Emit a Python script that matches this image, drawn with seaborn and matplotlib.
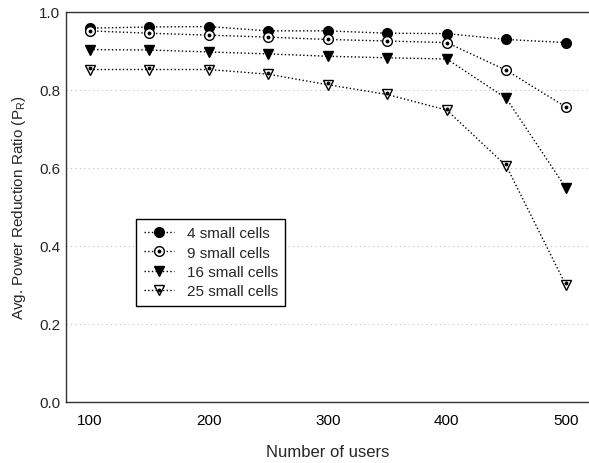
import matplotlib
matplotlib.use('Agg')
import matplotlib.pyplot as plt
import seaborn as sns
import pandas as pd
from matplotlib.legend_handler import HandlerTuple

### donnees ###
users = [100, 150, 200, 250, 300, 350, 400, 450, 500]
cells_4 = [0.958, 0.961, 0.962, 0.951, 0.951, 0.945, 0.944, 0.929, 0.921]
cells_9 = [0.951, 0.945, 0.940, 0.935, 0.929, 0.925, 0.921, 0.850, 0.756]
cells_16 = [0.903, 0.902, 0.897, 0.892, 0.886, 0.882, 0.879, 0.778, 0.549]
cells_25 = [0.852, 0.852, 0.852, 0.840, 0.813, 0.788, 0.748, 0.605, 0.300]
labels = ['4 small cells', '9 small cells', '16 small cells', '25 small cells']

sns.set_style('white')
plt.rcParams['font.family'] = ['Liberation Sans', 'DejaVu Sans']

fig = plt.figure(figsize=(5.89, 4.64), dpi=100)
ax = fig.add_axes([0.112, 0.1315, 0.889, 0.841])

df = pd.DataFrame({'users': users, 'c4': cells_4, 'c9': cells_9, 'c16': cells_16, 'c25': cells_25})

styles = [
    ('c4', 'o', 'black', False),
    ('c9', 'o', 'white', True),
    ('c16', 'v', 'black', False),
    ('c25', 'v', 'white', True),
]

handles = []
for (col, mk, fc, dot), lab in zip(styles, labels):
    sns.lineplot(x='users', y=col, data=df, ax=ax, color='black', linestyle=':', linewidth=1,
                 marker=mk, markersize=7, markerfacecolor=fc, markeredgecolor='black',
                 markeredgewidth=1, label='_nolegend_')
    line = ax.get_lines()[-1]
    line.set_zorder(3)
    if dot:
        y_dot = df[col] + (0.004 if mk == 'v' else 0)
        ax.plot(df['users'], y_dot, linestyle='none', marker='o', markersize=1.8,
                color='black', zorder=5)
        dot_h = plt.Line2D([], [], color='black', marker='o', markersize=1.8, linestyle='none')
        handles.append((line, dot_h))
    else:
        handles.append(line)

ax.set_xlim(80, 520)
ax.set_ylim(0, 1.0)
ax.set_xticks([100, 200, 300, 400, 500])
ax.set_yticks([0.0, 0.2, 0.4, 0.6, 0.8, 1.0])
ax.set_yticklabels(['0.0', '0.2', '0.4', '0.6', '0.8', '1.0'])
ax.yaxis.grid(True, linestyle=(0, (1, 3)), color='#c0c0c0', linewidth=0.8)
ax.xaxis.grid(False)
ax.tick_params(axis='x', direction='in', length=5, width=1, colors='black', labelsize=11, pad=8)
ax.tick_params(axis='y', length=0, labelsize=11, pad=4)
for sp in ax.spines.values():
    sp.set_color('#333333')
    sp.set_linewidth(1)

ax.set_xlabel('Number of users', fontsize=12, labelpad=12)
ax.set_ylabel('Avg. Power Reduction Ratio (P$_\\mathregular{R}$)', fontsize=11, labelpad=8)

leg = ax.legend(handles, labels, handler_map={tuple: HandlerTuple(ndivide=1)},
                loc='lower left', bbox_to_anchor=(0.134, 0.246), borderaxespad=0,
                fontsize=11, frameon=True, fancybox=False, edgecolor='black', framealpha=1,
                handlelength=2.0, handletextpad=0.8, borderpad=0.5, labelspacing=0.35)
leg.get_frame().set_linewidth(1)

fig.savefig('out.png', dpi=100)
